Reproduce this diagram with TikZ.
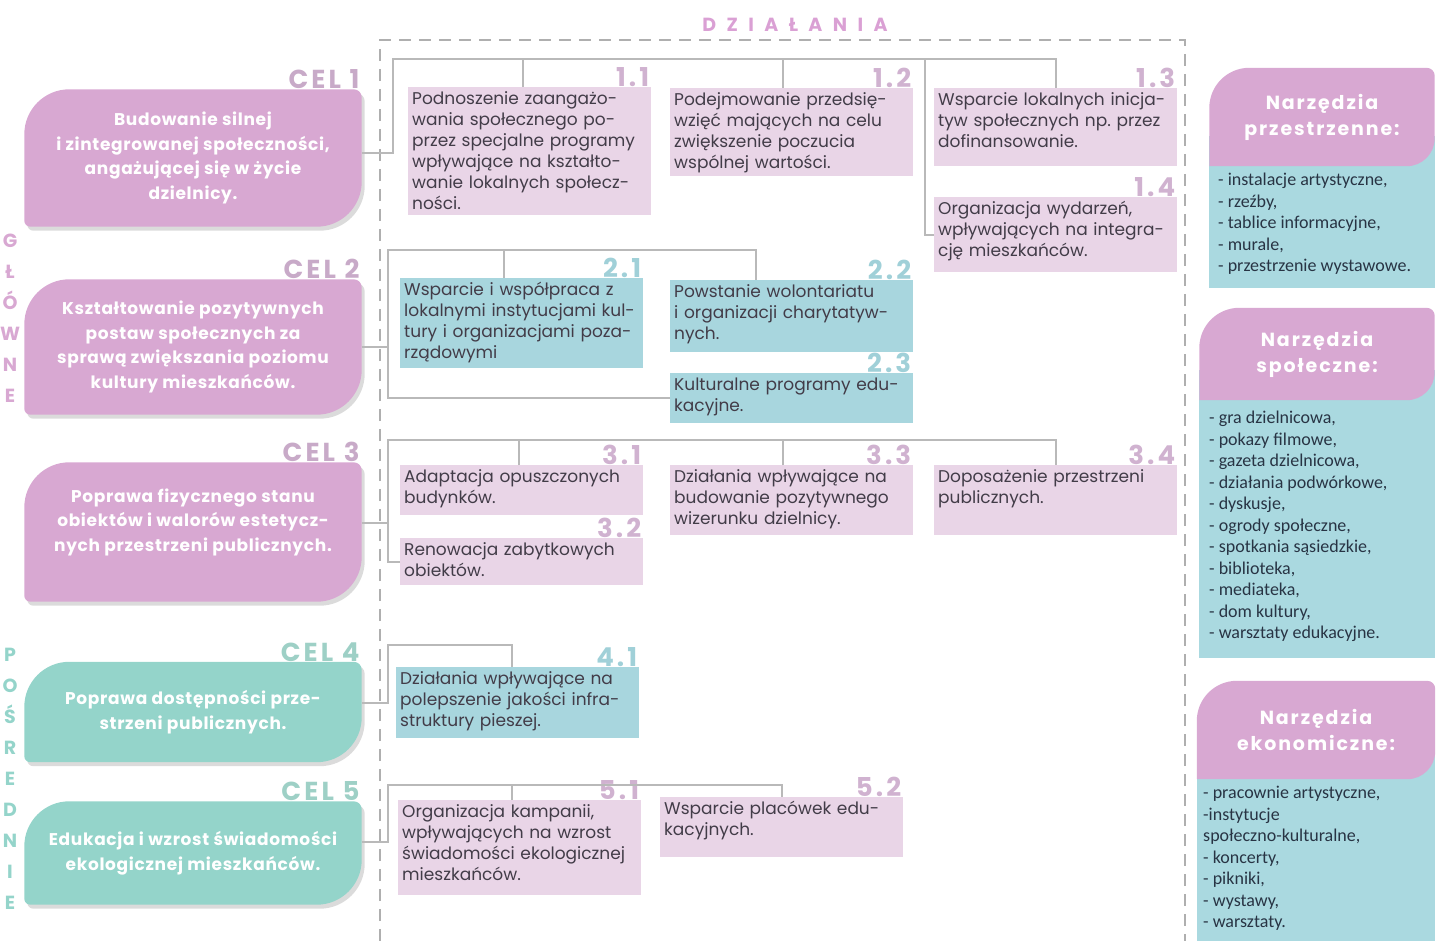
\documentclass[tikz,border=0pt]{standalone}
\usepackage{fontspec}
\setmainfont{Poppins}
\newfontfamily\listfont{Carlito}
\usetikzlibrary{calc,backgrounds,positioning}

\definecolor{goalpink}{RGB}{216,168,210}
\definecolor{goalteal}{RGB}{148,212,202}
\definecolor{actpink}{RGB}{233,213,231}
\definecolor{actblue}{RGB}{168,214,222}
\definecolor{numpink}{RGB}{208,178,208}
\definecolor{numblue}{RGB}{160,208,216}
\definecolor{celpink}{RGB}{200,170,200}
\definecolor{celteal}{RGB}{158,208,198}
\definecolor{linkgray}{RGB}{185,185,185}
\definecolor{framegray}{RGB}{175,175,175}
\definecolor{boxtext}{RGB}{66,60,72}
\definecolor{listtext}{RGB}{40,52,68}
\definecolor{cardblue}{RGB}{170,217,224}
\definecolor{titlepink}{RGB}{218,160,212}

% goal shape: two big rounded corners
\newcommand{\goalfill}[4]{%
  \fill[#4] ($(#1.north west)+(#2,45+#3)$) arc[start angle=180,end angle=270,radius=45]
    -- ($(#1.north east)+(-8+#2,#3)$) arc[start angle=270,end angle=360,radius=8]
    -- ($(#1.south east)+(#2,-45+#3)$) arc[start angle=0,end angle=90,radius=45]
    -- ($(#1.south west)+(6+#2,#3)$) arc[start angle=90,end angle=180,radius=6] -- cycle;}
\newcommand{\goalshape}[2]{%
  \begin{scope}[on background layer]
    \goalfill{#1}{3}{4}{black!14}
    \goalfill{#1}{0}{0}{#2}
  \end{scope}}
% tool card: blue body under a pink head
\newcommand{\toolcard}[2]{%
  \begin{scope}[on background layer]
    \fill[cardblue] ($(#1.south west)+(0,-30)$) rectangle ($(#1.south east)+(0,#2)$);
    \fill[goalpink] ($(#1.north west)+(0,40)$) arc[start angle=180,end angle=270,radius=40]
      -- ($(#1.north east)+(-8,0)$) arc[start angle=270,end angle=360,radius=8]
      -- ($(#1.south east)+(0,-28)$) arc[start angle=0,end angle=90,radius=28]
      -- (#1.south west) -- cycle;
  \end{scope}}
\newcommand{\boxlines}[1]{\begin{tabular}[t]{@{}l@{}}#1\end{tabular}}

\begin{document}
\begin{tikzpicture}[x=1pt,y=-1pt,
  goal/.style={minimum width=337, minimum height=#1, inner sep=0, align=center, text=white,
    font=\bfseries\fontsize{17}{24.5}\selectfont\addfontfeatures{LetterSpace=4}},
  cel/.style={anchor=south east, inner sep=0,
    font=\bfseries\fontsize{26}{26}\selectfont\addfontfeatures{LetterSpace=12}},
  act/.style={anchor=north west, text width=235, text height=13, text depth=#1-21,
    inner xsep=4, inner ysep=4, align=left, text=boxtext, font=\fontsize{17}{21}\selectfont},
  num/.style={anchor=south east, inner sep=0,
    font=\bfseries\fontsize{26}{26}\selectfont\addfontfeatures{LetterSpace=12}},
  link/.style={draw=linkgray, line width=1.8},
  head/.style={inner sep=0, align=center, text=white,
    font=\bfseries\fontsize{19}{26}\selectfont\addfontfeatures{LetterSpace=10}},
  tool/.style={anchor=north west, inner sep=0, align=left, text=listtext,
    font=\listfont\fontsize{18}{21.5}\selectfont},
  side/.style={inner sep=0, align=center, font=\bfseries\fontsize{19}{31}\selectfont}]

  \useasboundingbox (0,0) rectangle (1437,941);

  % Frame of the actions
  \draw[framegray, line width=1.8, dash pattern=on 12 off 8]
    (380,941) -- (380,40) -- (1185,40) -- (1185,941);
  \node[text=titlepink, font=\bfseries\fontsize{19}{19}\selectfont\addfontfeatures{LetterSpace=55}]
    (tt) at (795,25) {DZIAŁANIA};

  % Side labels
  \node[side, text=goalpink] (sg) at (10,318) {G\\Ł\\Ó\\W\\N\\E};
  \node[side, text=goalteal] (sp) at (10,779) {P\\O\\Ś\\R\\E\\D\\N\\I\\E};

  % Goals
  \node[goal=137] (g1) at (193,158) {Budowanie silnej\\i zintegrowanej społeczności,\\angażującej się w życie\\dzielnicy.};
  \goalshape{g1}{goalpink}
  \node[cel, text=celpink] (c1) at ([xshift=-2]g1.north east) {CEL 1};
  \node[goal=135] (g2) at (193,347) {Kształtowanie pozytywnych\\postaw społecznych za\\sprawą zwiększania poziomu\\kultury mieszkańców.};
  \goalshape{g2}{goalpink}
  \node[cel, text=celpink] (c2) at ([xshift=-2]g2.north east) {CEL 2};
  \node[goal=139] (g3) at (193,532) {Poprawa fizycznego stanu\\obiektów i walorów estetycz-\\nych przestrzeni publicznych.\\\mbox{}};
  \goalshape{g3}{goalpink}
  \node[cel, text=celpink] (c3) at ([xshift=-2]g3.north east) {CEL 3};
  \node[goal=100] (g4) at (193,712) {Poprawa dostępności prze-\\strzeni publicznych.};
  \goalshape{g4}{goalteal}
  \node[cel, text=celteal] (c4) at ([xshift=-2]g4.north east) {CEL 4};
  \node[goal=103] (g5) at (193,853) {Edukacja i wzrost świadomości\\ekologicznej mieszkańców.};
  \goalshape{g5}{goalteal}
  \node[cel, text=celteal] (c5) at ([xshift=-2]g5.north east) {CEL 5};

  % Actions of goal 1
  \node[act=128, fill=actpink] (a11) at (408,87) {\boxlines{Podnoszenie zaangażo-\\wania społecznego po-\\przez specjalne programy\\wpływające na kształto-\\wanie lokalnych społecz-\\ności.}};
  \node[act=88, fill=actpink] (a12) at (670,88) {\boxlines{Podejmowanie przedsię-\\wzięć mających na celu\\zwiększenie poczucia\\wspólnej wartości.}};
  \node[act=78, fill=actpink] (a13) at (934,88) {\boxlines{Wsparcie lokalnych inicja-\\tyw społecznych np.\ przez\\dofinansowanie.}};
  \node[act=75, fill=actpink] (a14) at (934,197) {\boxlines{Organizacja wydarzeń,\\wpływających na integra-\\cję mieszkańców.}};
  \node[num, text=numpink] (n11) at ([xshift=-2]a11.north east) {1.1};
  \node[num, text=numpink] (n12) at ([xshift=-2]a12.north east) {1.2};
  \node[num, text=numpink] (n13) at ([xshift=-2]a13.north east) {1.3};
  \node[num, text=numpink] (n14) at ([xshift=-2]a14.north east) {1.4};

  % Actions of goal 2
  \node[act=90, fill=actblue] (a21) at (400,278) {\boxlines{Wsparcie i współpraca z\\lokalnymi instytucjami kul-\\tury i organizacjami poza-\\rządowymi}};
  \node[act=72, fill=actblue] (a22) at (670,280) {\boxlines{Powstanie wolontariatu\\i organizacji charytatyw-\\nych.}};
  \node[act=50, fill=actblue] (a23) at (670,373) {\boxlines{Kulturalne programy edu-\\kacyjne.}};
  \node[num, text=numblue] (n21) at ([xshift=-2]a21.north east) {2.1};
  \node[num, text=numblue] (n22) at ([xshift=-2]a22.north east) {2.2};
  \node[num, text=numblue] (n23) at ([xshift=-2]a23.north east) {2.3};

  % Actions of goal 3
  \node[act=50, fill=actpink] (a31) at (400,465) {\boxlines{Adaptacja opuszczonych\\budynków.}};
  \node[act=47, fill=actpink] (a32) at (400,538) {\boxlines{Renowacja zabytkowych\\obiektów.}};
  \node[act=70, fill=actpink] (a33) at (670,465) {\boxlines{Działania wpływające na\\budowanie pozytywnego\\wizerunku dzielnicy.}};
  \node[act=70, fill=actpink] (a34) at (934,465) {\boxlines{Doposażenie przestrzeni\\publicznych.}};
  \node[num, text=numpink] (n31) at ([xshift=-2]a31.north east) {3.1};
  \node[num, text=numpink] (n32) at ([xshift=-2]a32.north east) {3.2};
  \node[num, text=numpink] (n33) at ([xshift=-2]a33.north east) {3.3};
  \node[num, text=numpink] (n34) at ([xshift=-2]a34.north east) {3.4};

  % Actions of goals 4 and 5
  \node[act=71, fill=actblue] (a41) at (396,667) {\boxlines{Działania wpływające na\\polepszenie jakości infra-\\struktury pieszej.}};
  \node[num, text=numblue] (n41) at ([xshift=-2]a41.north east) {4.1};
  \node[act=95, fill=actpink] (a51) at (398,800) {\boxlines{Organizacja kampanii,\\wpływających na wzrost\\świadomości ekologicznej\\mieszkańców.}};
  \node[act=60, fill=actpink] (a52) at (660,797) {\boxlines{Wsparcie placówek edu-\\kacyjnych.}};
  \node[num, text=numpink] (n51) at ([xshift=-2]a51.north east) {5.1};
  \node[num, text=numpink] (n52) at ([xshift=-2]a52.north east) {5.2};

  % Links
  \coordinate (t1) at (393,59);
  \draw[link] ([yshift=5]g1.east) -| (t1) -| (a13.north);
  \draw[link] ([xshift=-7]a11.north) |- (t1);
  \draw[link] ([xshift=-9]a12.north) |- (t1);
  \draw[link] (a14.west) -- ++(-9,0) |- (t1);
  \coordinate (t2) at (388,250);
  \draw[link] (g2.east) -| (t2);
  \draw[link] (a23.west) -| (t2) -| ([xshift=-36]a22.north);
  \draw[link] ([xshift=-18]a21.north) |- (t2);
  \coordinate (t3) at (388,440);
  \draw[link] ([yshift=9]g3.east) -| (t3);
  \draw[link] (a32.west) -| (t3) -| (a34.north);
  \draw[link] ([xshift=-3]a31.north) |- (t3);
  \draw[link] ([xshift=-9]a33.north) |- (t3);
  \coordinate (t4) at (388,645);
  \draw[link] ([yshift=9]g4.east) -| (t4) -| ([xshift=-6]a41.north);
  \coordinate (t5) at (388,785);
  \draw[link] ([yshift=11]g5.east) -| (t5) -| (a52.north);
  \draw[link] ([xshift=-8]a51.north) |- (t5);

  % Tool cards
  \node[head, minimum width=225, minimum height=98] (h1) at (1322,117) {Narzędzia\\przestrzenne:};
  \toolcard{h1}{122}
  \node[tool] (l1) at (1218,173) {- instalacje artystyczne,\\- rzeźby,\\- tablice informacyjne,\\- murale,\\- przestrzenie wystawowe.};
  \node[head, minimum width=235, minimum height=92] (h2) at (1317,354) {Narzędzia\\społeczne:};
  \toolcard{h2}{258}
  \node[tool] (l2) at (1209,411) {- gra dzielnicowa,\\- pokazy filmowe,\\- gazeta dzielnicowa,\\- działania podwórkowe,\\- dyskusje,\\- ogrody społeczne,\\- spotkania sąsiedzkie,\\- biblioteka,\\- mediateka,\\- dom kultury,\\- warsztaty edukacyjne.};
  \node[head, minimum width=238, minimum height=98] (h3) at (1316,730) {Narzędzia\\ekonomiczne:};
  \toolcard{h3}{165}
  \node[tool] (l3) at (1203,786) {- pracownie artystyczne,\\-instytucje\\społeczno-kulturalne,\\- koncerty,\\- pikniki,\\- wystawy,\\- warsztaty.};
\end{tikzpicture}
\end{document}
